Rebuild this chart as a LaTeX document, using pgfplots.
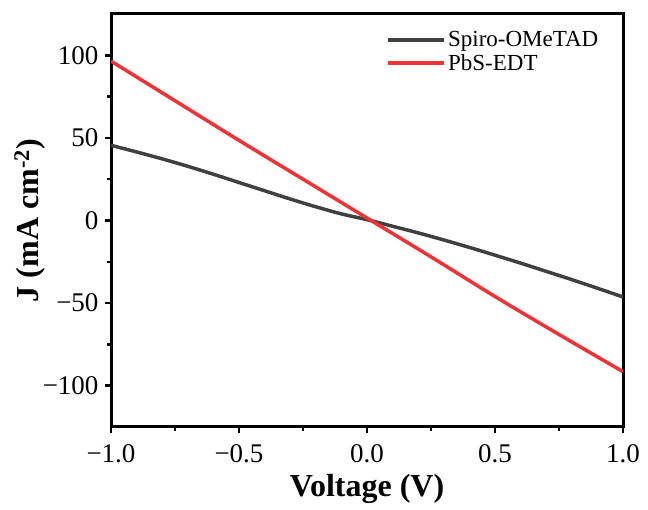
\documentclass[border=0pt]{standalone}
\usepackage{pgfplots}
\pgfplotsset{compat=1.18}
\usepackage{fontspec}
\setmainfont{Liberation Serif}
\definecolor{spiro}{HTML}{404040}
\definecolor{pbs}{HTML}{EE3236}
\begin{document}
\begin{tikzpicture}[x=1bp,y=1bp]
\path[use as bounding box] (0,0) rectangle (648,510);
\begin{axis}[
  at={(111bp,83bp)}, anchor=south west,
  scale only axis, width=512bp, height=413bp,
  xmin=-1, xmax=1, ymin=-125, ymax=125,
  axis line style={line width=3bp},
  tick align=outside, xtick pos=lower, ytick pos=left,
  major tick length=6bp, minor tick length=4bp,
  every tick/.style={line width=2.5bp, black},
  xtick={-1,-0.5,0,0.5,1},
  xticklabels={−1.0,−0.5,0.0,0.5,1.0},
  ytick={-100,-50,0,50,100},
  yticklabels={−100,−50,0,50,100},
  minor xtick={-0.75,-0.25,0.25,0.75},
  minor ytick={-75,-25,25,75},
  tick label style={font=\fontsize{27bp}{29bp}\selectfont},
  xticklabel style={yshift=-8bp},
  yticklabel style={xshift=-3bp},
  xlabel={\textbf{Voltage (V)}},
  ylabel={\textbf{J (mA cm\textsuperscript{-2})}},
  label style={font=\fontsize{32bp}{34bp}\selectfont},
  xlabel style={yshift=-5bp},
  ylabel style={yshift=-9bp},
  legend style={draw=none, fill=none, at={(0.535,0.965)}, anchor=north west,
    font=\fontsize{23bp}{25bp}\selectfont, row sep=2bp,
    inner sep=1bp},
  legend cell align=left,
  legend image code/.code={\draw[#1, line width=4bp] (0bp,0bp) -- (56bp,0bp);},
]
\addplot[spiro, line width=3.5bp, smooth] coordinates {
(-1.0,45.5) (-0.9,41.5) (-0.8,37.3) (-0.7,32.8) (-0.6,28.0) (-0.5,23.0)
(-0.4,18.0) (-0.3,13.0) (-0.2,8.3) (-0.1,4.0) (0.0,0.5) (0.1,-3.5)
(0.2,-7.5) (0.3,-11.8) (0.4,-16.3) (0.5,-21.0) (0.6,-25.8) (0.7,-30.8)
(0.8,-35.8) (0.9,-41.0) (1.0,-46.3)
};
\addlegendentry{Spiro-OMeTAD}
\addplot[pbs, line width=3.5bp, smooth] coordinates {
(-1.0,96.5) (-0.75,72.5) (-0.5,48.5) (-0.25,25.0) (0.0,1.5)
(0.25,-22.0) (0.5,-46.0) (0.75,-69.0) (1.0,-91.5)
};
\addlegendentry{PbS-EDT}
\end{axis}
\end{tikzpicture}
\end{document}
